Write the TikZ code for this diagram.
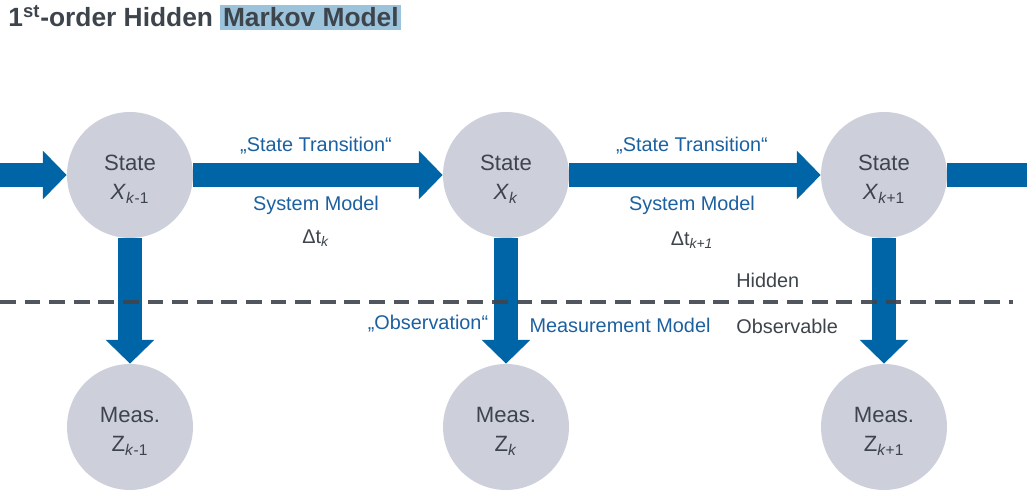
\documentclass[tikz,border=0pt]{standalone}
\usepackage{fontspec}
\setmainfont{Liberation Sans}
\usetikzlibrary{arrows.meta}
\definecolor{hmmblue}{RGB}{0,101,166}
\definecolor{hmmgray}{RGB}{205,208,219}
\definecolor{hmmtext}{RGB}{62,68,76}
\definecolor{hmmlabel}{RGB}{28,96,160}
\definecolor{hmmmark}{RGB}{156,195,220}
\newcommand{\hmmlines}[2]{\raisebox{-2.5pt}[\height][\depth]{\begin{tabular}{@{}c@{}}#1\\#2\end{tabular}}}
\tikzset{
	hmmstate/.style={circle, fill=hmmgray, minimum size=2.52cm, inner sep=0pt, text=hmmtext, font=\fontsize{12.6}{16}\selectfont},
	flowline/.style={draw=hmmblue, line width=13.6pt},
	flow/.style={flowline, -{Triangle[length=13.6pt,width=27pt]}},
	lbl/.style={text=hmmlabel, inner sep=0pt, font=\fontsize{11.3}{13}\selectfont},
	plain/.style={text=hmmtext, inner sep=0pt, font=\fontsize{11.3}{13}\selectfont},
	divider/.style={draw=hmmtext, draw opacity=0.9, line width=2.3pt, dash pattern=on 9pt off 5pt}
}

\begin{document}
\begin{tikzpicture}[x=0.02cm, y=-0.02cm]
		%%%%% START %%%%%
		\useasboundingbox (0, 0) rectangle (1027, 499);
		
		\node[anchor=base west, inner sep=0pt, text=hmmtext, font=\fontsize{15}{18}\bfseries] (title) at (8, 27)
			{1\textsuperscript{st}-order Hidden {\fboxsep=1.5pt\colorbox{hmmmark}{Markov Model}}};
		
		\node[hmmstate] (x1) at (130, 175) {\hmmlines{State}{\textit{X}\textsubscript{\textit{k}-1}}};
		\node[hmmstate] (x2) at (506, 175) {\hmmlines{State}{\textit{X}\textsubscript{\textit{k}}}};
		\node[hmmstate] (x3) at (884, 175) {\hmmlines{State}{\textit{X}\textsubscript{\textit{k}+1}}};
		
		\node[hmmstate] (z1) at (130, 427) {\hmmlines{Meas.}{Z\textsubscript{\textit{k}-1}}};
		\node[hmmstate] (z2) at (506, 427) {\hmmlines{Meas.}{Z\textsubscript{\textit{k}}}};
		\node[hmmstate] (z3) at (884, 427) {\hmmlines{Meas.}{Z\textsubscript{\textit{k}+1}}};
		
		\coordinate (in) at (0, 175);
		\coordinate (out) at (1027, 175);
		
		\draw[flow] (in) -- (x1);
		\draw[flow] (x1) -- (x2);
		\draw[flow] (x2) -- (x3);
		\draw[flowline] (x3) -- (out);
		
		\draw[flow] (x1) -- (z1);
		\draw[flow] (x2) -- (z2);
		\draw[flow] (x3) -- (z3);
		
		\coordinate (dl) at (0, 302);
		\coordinate (dr) at (1013, 302);
		\draw[divider] (dl) -- (dr);
		
		\node[lbl] (trans1) at (316, 146) {„State Transition“};
		\node[lbl] (sys1) at (316, 205) {System Model};
		\node[plain] (dt1) at (316, 238) {Δt\textsubscript{\textit{k}}};
		
		\node[lbl] (trans2) at (692, 146) {„State Transition“};
		\node[lbl] (sys2) at (692, 205) {System Model};
		\node[plain] (dt2) at (692, 240) {Δt\textsubscript{\textit{k+1}}};
		
		\node[plain, anchor=west] (hid) at (736, 280) {Hidden};
		\node[plain, anchor=west] (obs) at (736, 326) {Observable};
		\node[lbl] (obsv) at (428, 324) {„Observation“};
		\node[lbl] (meas) at (620, 325) {Measurement Model};
		%%%%% END %%%%%
\end{tikzpicture}
\end{document}
